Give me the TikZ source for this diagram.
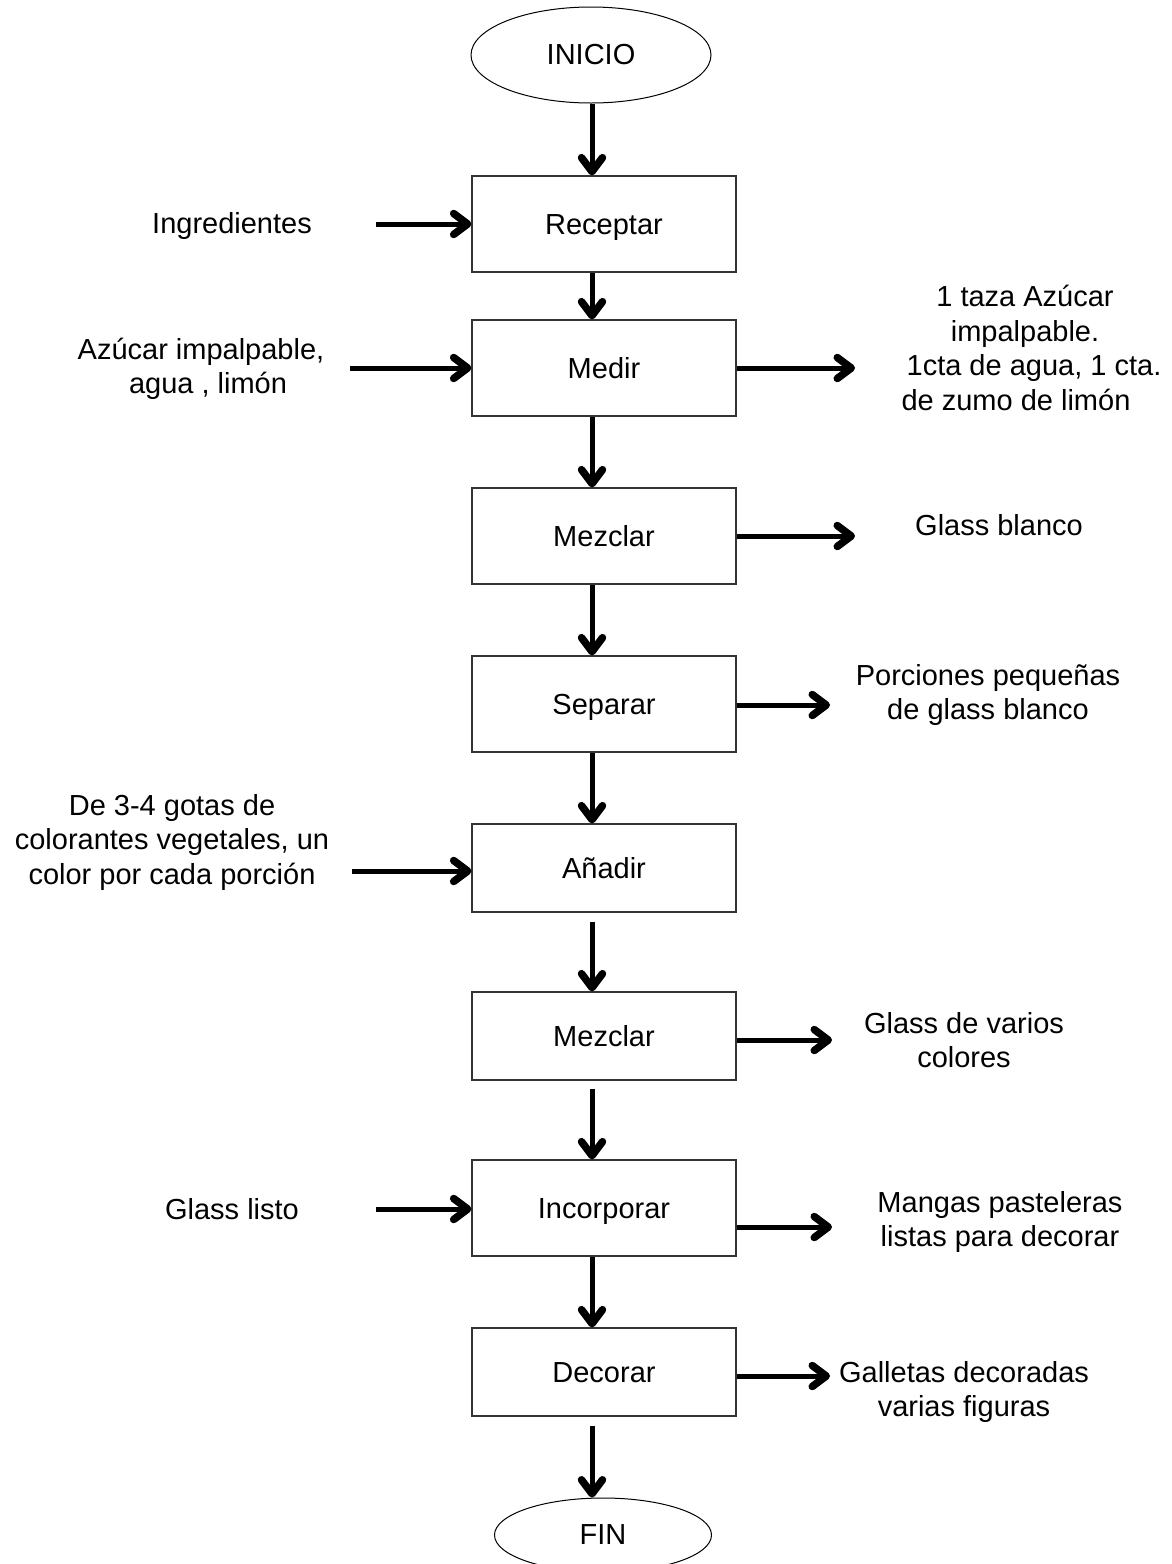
\documentclass[tikz,border=0pt]{standalone}
\usepackage{fontspec}
\setmainfont{Liberation Sans}
\usetikzlibrary{arrows.meta,shapes.geometric}
\begin{document}
\begin{tikzpicture}[x=1pt,y=-1pt,
  every node/.style={font=\fontsize{29}{34.5}\selectfont, inner sep=0pt},
  stepbox/.style={draw=black!80, line width=1.2pt, minimum width=264pt, fill=white, text depth=0pt, text height=21pt},
  term/.style={draw=black, line width=1pt, ellipse, fill=white},
  lbl/.style={align=center},
  arr/.style={line width=5pt, -{Straight Barb[length=14pt,width=21pt,line width=7.5pt,round]}}]
\useasboundingbox (0,0) rectangle (1172,1564);
% terminals
\node[term, minimum width=240pt, minimum height=96pt] (ini) at (591,55) {INICIO};
\node[term, minimum width=217pt, minimum height=74pt] (fin) at (603,1535) {FIN};
% process boxes
\node[stepbox, minimum height=96pt] (rec) at (604,224) {Receptar};
\node[stepbox, minimum height=96pt] (med) at (604,368) {Medir};
\node[stepbox, minimum height=96pt] (mez) at (604,536) {Mezclar};
\node[stepbox, minimum height=96pt] (sep) at (604,704) {Separar};
\node[stepbox, minimum height=88pt] (ana) at (604,868) {Añadir};
\node[stepbox, minimum height=88pt] (mezb) at (604,1036) {Mezclar};
\node[stepbox, minimum height=96pt] (inc) at (604,1208) {Incorporar};
\node[stepbox, minimum height=88pt] (dec) at (604,1372) {Decorar};
% side texts
\node[lbl] (ting) at (232,226) {Ingredientes};
\node[lbl] (tazu) at (208,369) {Azúcar impalpable,\hspace*{14pt}\\agua , limón};
\node[lbl] (tmed) at (1025,348) {1 taza Azúcar\\impalpable.\\\hspace*{18pt}1cta de agua, 1 cta.\\de zumo de limón\hspace*{18pt}};
\node[lbl] (tgb) at (999,525) {Glass blanco};
\node[lbl] (tpor) at (988,695) {Porciones pequeñas\\de glass blanco};
\node[lbl] (tgot) at (172,842) {De 3-4 gotas de\\colorantes vegetales, un\\color por cada porción};
\node[lbl] (tvar) at (964,1040) {Glass de varios\\colores};
\node[lbl] (tlis) at (232,1209) {Glass listo};
\node[lbl] (tman) at (1000,1222) {Mangas pasteleras\\listas para decorar};
\node[lbl] (tgal) at (964,1392) {Galletas decoradas\\varias figuras};
% vertical flow
\coordinate (ax) at (592,0);
\draw[arr] (ax |- ini.south) -- (ax |- rec.north);
\draw[arr] (ax |- rec.south) -- (ax |- med.north);
\draw[arr] (ax |- med.south) -- (ax |- mez.north);
\draw[arr] (ax |- mez.south) -- (ax |- sep.north);
\draw[arr] (ax |- sep.south) -- (ax |- ana.north);
\draw[arr, shorten <=9pt] (ax |- ana.south) -- (ax |- mezb.north);
\draw[arr, shorten <=8pt] (ax |- mezb.south) -- (ax |- inc.north);
\draw[arr] (ax |- inc.south) -- (ax |- dec.north);
\draw[arr, shorten <=9pt] (ax |- dec.south) -- (ax |- fin.north);
% inputs
\coordinate (iing) at (376,224);
\coordinate (iazu) at (350,368);
\coordinate (igot) at (352,871);
\coordinate (ilis) at (376,1209);
\draw[arr] (iing) -- (rec.west |- iing);
\draw[arr] (iazu) -- (med.west |- iazu);
\draw[arr] (igot) -- (ana.west |- igot);
\draw[arr] (ilis) -- (inc.west |- ilis);
% outputs
\coordinate (omed) at (855,368);
\coordinate (omez) at (855,536);
\coordinate (osep) at (830,705);
\coordinate (omezb) at (832,1040);
\coordinate (oinc) at (832,1227);
\coordinate (odec) at (830,1376);
\draw[arr] (med.east |- omed) -- (omed);
\draw[arr] (mez.east |- omez) -- (omez);
\draw[arr] (sep.east |- osep) -- (osep);
\draw[arr] (mezb.east |- omezb) -- (omezb);
\draw[arr] (inc.east |- oinc) -- (oinc);
\draw[arr] (dec.east |- odec) -- (odec);
\end{tikzpicture}
\end{document}
